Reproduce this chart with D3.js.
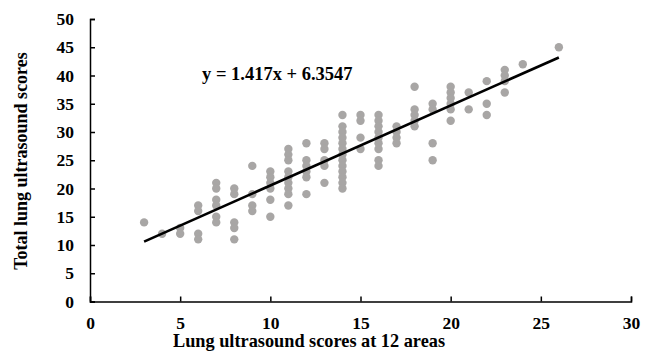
<!DOCTYPE html>
<html>
<head>
<meta charset="utf-8">
<script src="https://cdn.jsdelivr.net/npm/d3@7"></script>
<style>
  body { margin: 0; background: #fff; }
  text { font-family: "Liberation Serif", "Times New Roman", serif; font-weight: bold; fill: #000; }
</style>
</head>
<body>
<div id="chart"></div>
<script>
// scores at 12 areas (x) and the total scores seen for each of them (y)
var areaScores = [3, 4, 5, 6, 7, 8, 9, 10, 11, 12, 13, 14, 15, 16, 17, 18, 19, 20, 21, 22, 23, 24, 26];
var totalScores = [
  [14],
  [12],
  [13, 12],
  [17, 16, 12, 11],
  [21, 20, 18, 17, 15, 14],
  [20, 19, 14, 13, 11],
  [24, 19, 17, 16],
  [23, 22, 21, 20, 18, 15],
  [27, 26, 25, 23, 22, 21, 20, 19, 17],
  [28, 25, 24, 23, 22, 19],
  [28, 27, 25, 24, 21],
  [33, 31, 30, 29, 28, 27, 26, 25, 24, 23, 22, 21, 20],
  [33, 32, 29, 27],
  [33, 32, 31, 30, 29, 28, 27, 25, 24],
  [31, 30, 29, 28],
  [38, 34, 33, 32, 31],
  [35, 34, 28, 25],
  [38, 37, 36, 35, 34, 32],
  [37, 34],
  [39, 35, 33],
  [41, 40, 39, 37],
  [42],
  [45]
];
var xTicks = [0, 5, 10, 15, 20, 25, 30];
var yTicks = [0, 5, 10, 15, 20, 25, 30, 35, 40, 45, 50];
var slope = 1.417,
    intercept = 6.3547,
    fitRange = [3, 26];
var xTitle = "Lung ultrasound scores at 12 areas",
    yTitle = "Total lung ultrasound scores",
    fitLabel = "y = 1.417x + 6.3547";

function buildChart() {
  var width = 646, height = 352,
      plotLeft = 90, plotRight = 631, plotTop = 19, plotBottom = 301.5;

  var svg = d3.select("#chart").append("svg")
      .attr("width", width)
      .attr("height", height);

  var x = d3.scaleLinear().domain([0, 30]).range([plotLeft, plotRight]),
      y = d3.scaleLinear().domain([0, 50]).range([plotBottom, plotTop]);

  // flatten the columns to one point list
  var points = areaScores.reduce(function(arr, a, i) {
    return arr.concat(totalScores[i].map(function(t) { return {x: a, y: t}; }));
  }, []);

  // axes, ticks point inside like the original
  var xAxis = svg.append("g")
      .attr("transform", "translate(0," + plotBottom + ")")
      .call(d3.axisBottom(x).tickValues(xTicks).tickSize(-5).tickPadding(15));
  var yAxis = svg.append("g")
      .attr("transform", "translate(" + plotLeft + ",0)")
      .call(d3.axisLeft(y).tickValues(yTicks).tickSize(-5).tickPadding(16));

  [xAxis, yAxis].forEach(function(g) {
    g.select(".domain").attr("stroke", "#000").attr("stroke-width", 1.5);
    g.selectAll(".tick line").attr("stroke", "#000").attr("stroke-width", 1.5);
    g.selectAll(".tick text")
      .style("font-family", '"Liberation Serif", serif')
      .style("font-weight", "bold")
      .style("font-size", "17.5px")
      .attr("fill", "#000");
  });

  svg.append("g").selectAll(".dot").data(points)
      .enter().append("circle")
      .attr("class", "dot")
      .attr("r", 4.2)
      .attr("cx", function(d) { return x(d.x); })
      .attr("cy", function(d) { return y(d.y); })
      .attr("fill", "#a8a6a5");

  svg.append("line")
      .attr("x1", x(fitRange[0]))
      .attr("y1", y(slope * fitRange[0] + intercept))
      .attr("x2", x(fitRange[1]))
      .attr("y2", y(slope * fitRange[1] + intercept))
      .attr("stroke", "#000")
      .attr("stroke-width", 2.6);

  svg.append("text")
      .attr("x", 202)
      .attr("y", 80)
      .style("font-size", "18.5px")
      .text(fitLabel);

  svg.append("text")
      .attr("x", 309)
      .attr("y", 347)
      .attr("text-anchor", "middle")
      .style("font-size", "18.3px")
      .text(xTitle);

  svg.append("text")
      .attr("transform", "translate(27,161) rotate(-90)")
      .attr("text-anchor", "middle")
      .style("font-size", "18px")
      .text(yTitle);
}

buildChart();
</script>
</body>
</html>
